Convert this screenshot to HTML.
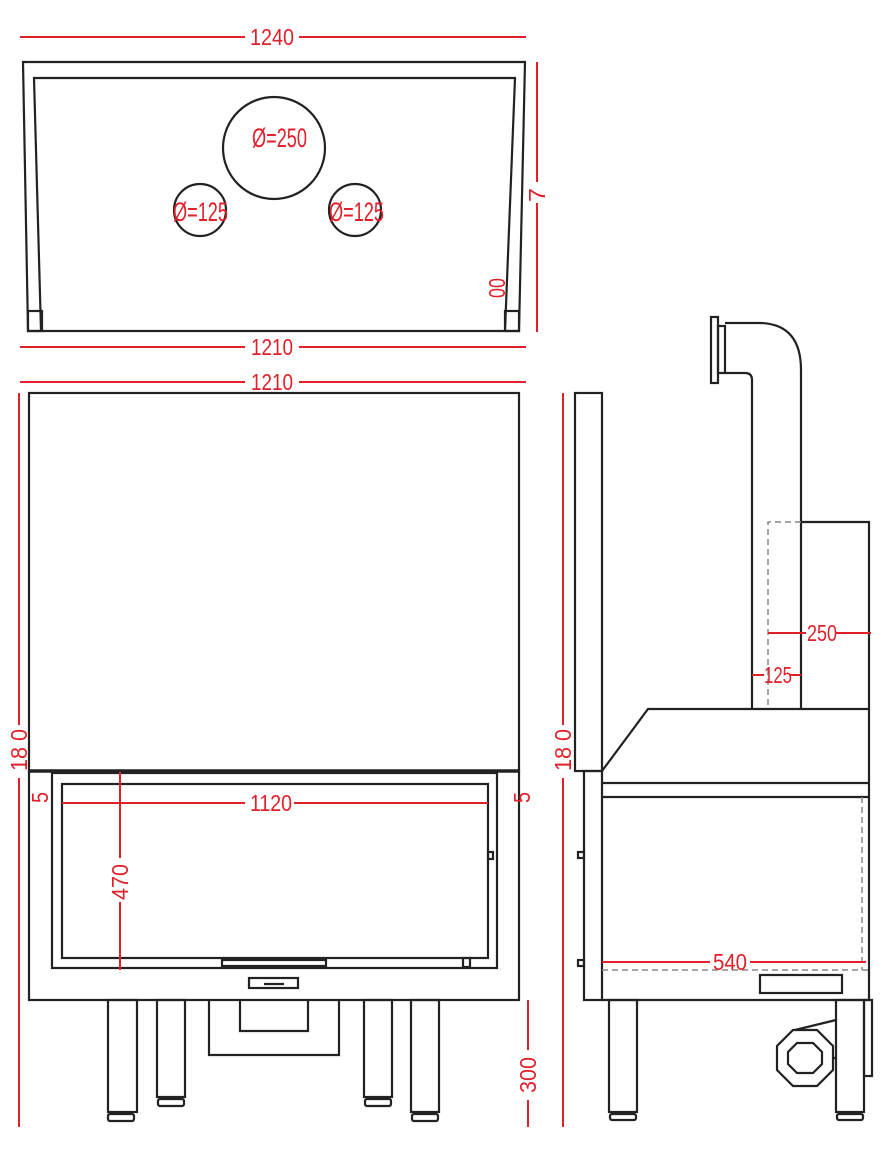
<!DOCTYPE html>
<html><head><meta charset="utf-8"><style>
html,body{margin:0;padding:0;background:#fff;}
svg{display:block;}
text{font-family:"Liberation Sans Narrow","Liberation Sans",sans-serif;fill:#e0202a;font-size:23px;}
</style></head><body>
<svg width="881" height="1166" viewBox="0 0 881 1166" xmlns="http://www.w3.org/2000/svg">
<g fill="none" stroke="#222" stroke-width="2.2">
<path d="M28 331 L23 62 L525 62 L519 331 Z"/>
<path d="M41 331 L34 78 L515 78 L505 331"/>
<rect x="28" y="311" width="14" height="20"/>
<rect x="505" y="311" width="14" height="20"/>
<circle cx="274" cy="148" r="51"/>
<circle cx="200" cy="210" r="26"/>
<circle cx="355" cy="210" r="26"/>
<rect x="29" y="393" width="490" height="378"/>
<rect x="29" y="771" width="490" height="229"/>
<line x1="29" y1="771" x2="519" y2="771" stroke-width="3.5"/>
<rect x="52" y="773" width="445" height="195"/>
<rect x="62" y="784" width="426" height="174"/>
<rect x="488" y="852" width="5" height="7"/>
<rect x="463" y="958" width="7" height="9"/>
<rect x="222" y="960" width="104" height="6"/>
<rect x="249" y="978" width="49" height="10"/>
<line x1="264" y1="984" x2="284" y2="984"/>
<rect x="108" y="1000" width="29" height="112"/>
<rect x="108" y="1114" width="26" height="7" rx="2"/>
<rect x="157" y="1000" width="28" height="97"/>
<rect x="158" y="1099" width="26" height="7" rx="2"/>
<rect x="364" y="1000" width="28" height="97"/>
<rect x="365" y="1099" width="26" height="7" rx="2"/>
<rect x="411" y="1000" width="28" height="112"/>
<rect x="412" y="1114" width="26" height="7" rx="2"/>
<path d="M209 1000 V1055 H339 V1000"/>
<path d="M240 1000 V1031 H308 V1000"/>
<rect x="575" y="393" width="27" height="378"/>
<rect x="584" y="771" width="18" height="229"/>
<rect x="578" y="852" width="6" height="6"/>
<rect x="578" y="960" width="6" height="6"/>
<path d="M602 771 L648 709 L869 709 L869 1000 L602 1000"/>
<line x1="602" y1="783" x2="869" y2="783"/>
<line x1="602" y1="797" x2="869" y2="797"/>
<rect x="760" y="975" width="82" height="18"/>
<path d="M752 709 V380 Q752 373 745 373 H725"/>
<path d="M801 709 V370 Q801 324 760 323 H725"/>
<rect x="711" y="317" width="7" height="66"/>
<rect x="718" y="326" width="7" height="47"/>
<path d="M801 522 H869 V709"/>
<rect x="609" y="1000" width="28" height="112"/>
<rect x="610" y="1114" width="26" height="6" rx="2"/>
<rect x="836" y="1000" width="28" height="112"/>
<rect x="837" y="1114" width="26" height="6" rx="2"/>
<rect x="864" y="1000" width="8" height="76"/>
<polygon points="793,1030 817,1030 833,1046 833,1070 817,1086 793,1086 777,1070 777,1046"/>
<polygon points="797,1043 813,1043 822,1052 822,1064 813,1073 797,1073 788,1064 788,1052"/>
<line x1="795" y1="1030" x2="836" y2="1020"/>
<line x1="833" y1="1058" x2="836" y2="1058"/>
</g>
<g fill="none" stroke="#888" stroke-width="1.5" stroke-dasharray="6,4">
<path d="M801 522 H768 V709"/>
<path d="M862 797 V970"/>
<path d="M602 970 H869"/>
</g>
<g stroke="#e0202a" stroke-width="2" fill="none">
<line x1="20" y1="37" x2="245" y2="37"/><line x1="299" y1="37" x2="526" y2="37"/>
<line x1="20" y1="347" x2="245" y2="347"/><line x1="299" y1="347" x2="526" y2="347"/>
<line x1="20" y1="382" x2="245" y2="382"/><line x1="299" y1="382" x2="526" y2="382"/>
<line x1="537" y1="62" x2="537" y2="182"/><line x1="537" y1="203" x2="537" y2="332"/>
<line x1="19" y1="393" x2="19" y2="725"/><line x1="19" y1="778" x2="19" y2="1127"/>
<line x1="563" y1="393" x2="563" y2="725"/><line x1="563" y1="778" x2="563" y2="1127"/>
<line x1="62" y1="803" x2="245" y2="803"/><line x1="294" y1="803" x2="488" y2="803"/>
<line x1="120" y1="772" x2="120" y2="858"/><line x1="120" y1="902" x2="120" y2="970"/>
<line x1="528" y1="1000" x2="528" y2="1050"/><line x1="528" y1="1100" x2="528" y2="1127"/>
<line x1="768" y1="633" x2="806" y2="633"/><line x1="836" y1="633" x2="871" y2="633"/>
<line x1="752" y1="675" x2="764" y2="675"/><line x1="790" y1="675" x2="801" y2="675"/>
<line x1="602" y1="962" x2="710" y2="962"/><line x1="750" y1="962" x2="866" y2="962"/>
</g>
<text x="250" y="45" textLength="44" lengthAdjust="spacingAndGlyphs">1240</text>
<text x="251" y="355" textLength="42" lengthAdjust="spacingAndGlyphs">1210</text>
<text x="251" y="390" textLength="42" lengthAdjust="spacingAndGlyphs">1210</text>
<text x="252" y="147" style="font-size:27px" textLength="55" lengthAdjust="spacingAndGlyphs">Ø=250</text>
<text x="173" y="221" style="font-size:27px" textLength="55" lengthAdjust="spacingAndGlyphs">Ø=125</text>
<text x="329" y="221" style="font-size:27px" textLength="55" lengthAdjust="spacingAndGlyphs">Ø=125</text>
<text transform="translate(545,202) rotate(-90)" textLength="14" lengthAdjust="spacingAndGlyphs">7</text>
<text transform="translate(505,298) rotate(-90)" textLength="20" lengthAdjust="spacingAndGlyphs">00</text>
<text transform="translate(27,771) rotate(-90)" textLength="42" lengthAdjust="spacingAndGlyphs">18 0</text>
<text transform="translate(571,771) rotate(-90)" textLength="42" lengthAdjust="spacingAndGlyphs">18 0</text>
<text transform="translate(48,803) rotate(-90)" textLength="11" lengthAdjust="spacingAndGlyphs">5</text>
<text transform="translate(530,803) rotate(-90)" textLength="11" lengthAdjust="spacingAndGlyphs">5</text>
<text x="250" y="811" textLength="42" lengthAdjust="spacingAndGlyphs">1120</text>
<text transform="translate(128,900) rotate(-90)" textLength="36" lengthAdjust="spacingAndGlyphs">470</text>
<text transform="translate(536,1093) rotate(-90)" textLength="36" lengthAdjust="spacingAndGlyphs">300</text>
<text x="807" y="641" textLength="30" lengthAdjust="spacingAndGlyphs">250</text>
<text x="764" y="683" textLength="28" lengthAdjust="spacingAndGlyphs">125</text>
<text x="713" y="970" textLength="34" lengthAdjust="spacingAndGlyphs">540</text>
</svg>
</body></html>
